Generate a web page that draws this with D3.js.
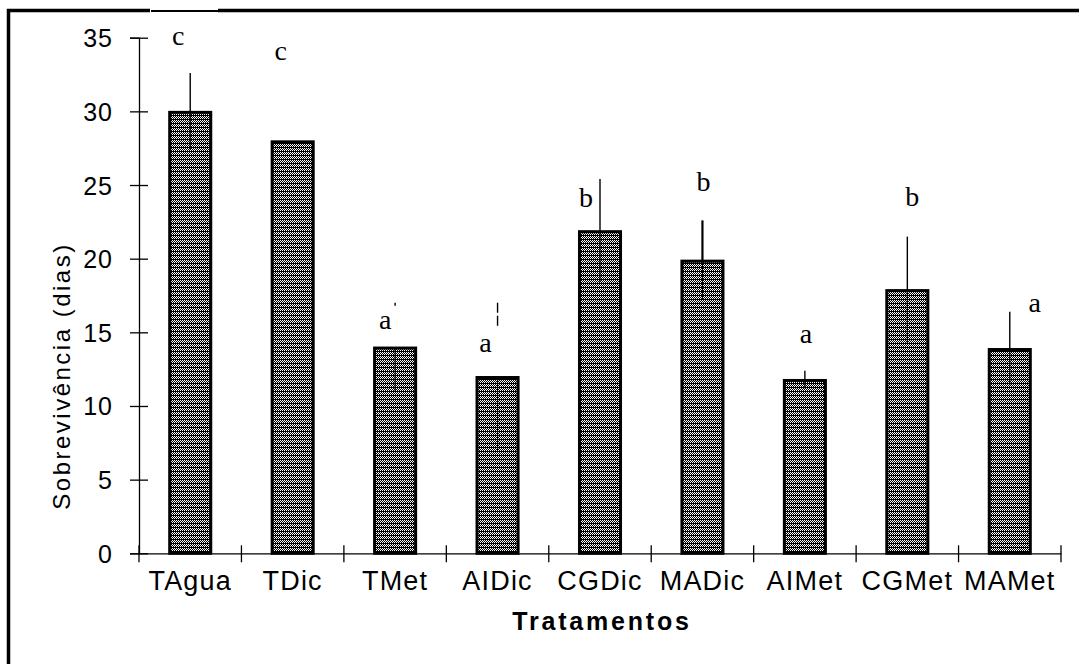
<!DOCTYPE html>
<html lang="pt">
<head>
<meta charset="UTF-8" />
<title>Sobrevivência por tratamento</title>
<script src="https://d3js.org/d3.v7.js"></script>
<style>
    body { margin: 0; background: #fff; }
    svg { display: block; }
</style>
</head>
<body>
<script>
    var w = 1079;
    var h = 664;

    // data
    var categories = ["TAgua", "TDic", "TMet", "AIDic", "CGDic", "MADic", "AIMet", "CGMet", "MAMet"];
    var means = [30, 28, 14, 12, 21.9, 19.9, 11.8, 17.9, 13.9];
    var errors = [2.6, 0, 3, 5, 3.5, 2.7, 0.6, 3.6, 2.5];
    var letters = ["c", "c", "a", "a", "b", "b", "a", "b", "a"];
    var letterLevel = [34.5, 33.5, 15.2, 13.65, 23.5, 24.6, 14.3, 23.6, 16.4];
    var yTicks = [0, 5, 10, 15, 20, 25, 30, 35];

    var dataset = categories.map(function (c, i) {
        return { name: c, mean: means[i], err: errors[i], letter: letters[i], level: letterLevel[i] };
    });

    // little horizontal shifts of the letters, as placed in the original
    var letterNudge = [-12, -12, -10, -12, -14, 1, 1, 5, 25];
    // the scan lost most of the TMet and AIDic error lines
    var errDash = { TMet: "3,1000", AIDic: "10,3,10,1000" };

    var svg = d3.select("body")
        .append("svg")
        .attr("width", w)
        .attr("height", h);

    // hatch pattern of the bars
    var pat = svg.append("defs").append("pattern")
        .attr("id", "hatch")
        .attr("patternUnits", "userSpaceOnUse")
        .attr("width", 4)
        .attr("height", 4);
    pat.append("rect").attr("width", 4).attr("height", 4).attr("fill", "#000");
    [[0, 0], [2, 0], [1, 1], [3, 1], [0, 2], [2, 2]].forEach(function (p) {
        pat.append("rect").attr("x", p[0]).attr("y", p[1])
            .attr("width", 1).attr("height", 1).attr("fill", "#fff");
    });

    // frame (left and top only)
    svg.append("path")
        .attr("d", "M8.5,664 V10.5 H150")
        .attr("fill", "none").attr("stroke", "#000").attr("stroke-width", 3.5);
    svg.append("line")
        .attr("x1", 151).attr("x2", 218).attr("y1", 11).attr("y2", 11)
        .attr("stroke", "#000").attr("stroke-width", 2);
    svg.append("line")
        .attr("x1", 218).attr("x2", w).attr("y1", 10.5).attr("y2", 10.5)
        .attr("stroke", "#000").attr("stroke-width", 3.5);

    var xScale = d3.scaleBand()
        .domain(categories)
        .range([139, 1061]);

    var yScale = d3.scaleLinear()
        .domain([0, 35])
        .range([553.3, 37.7]);

    var bw = xScale.bandwidth() * 0.43;
    var mid = function (d) { return xScale(d.name) + xScale.bandwidth() / 2; };

    // bars
    svg.selectAll("rect.bar")
        .data(dataset)
        .enter()
        .append("rect")
        .attr("class", "bar")
        .attr("x", function (d) { return xScale(d.name) + (xScale.bandwidth() - bw) / 2 + 1.5; })
        .attr("y", function (d) { return yScale(d.mean) + 1; })
        .attr("width", bw - 3)
        .attr("height", function (d) { return yScale(0) - yScale(d.mean) - 1; })
        .attr("fill", "url(#hatch)")
        .attr("stroke", "#000")
        .attr("stroke-width", 3);

    var withErr = dataset.filter(function (d) { return d.err > 0; });

    // error bars, lower half (inside the bar)
    svg.selectAll("line.errlow")
        .data(withErr)
        .enter()
        .append("line")
        .attr("class", "errlow")
        .attr("x1", mid)
        .attr("x2", mid)
        .attr("y1", function (d) { return yScale(d.mean); })
        .attr("y2", function (d) { return yScale(d.mean - d.err); })
        .attr("stroke", "#000")
        .attr("stroke-width", 1.2);

    // error bars, upper half, drawn from the tip down
    svg.selectAll("line.err")
        .data(withErr)
        .enter()
        .append("line")
        .attr("class", "err")
        .attr("x1", mid)
        .attr("x2", mid)
        .attr("y1", function (d) { return yScale(d.mean + d.err); })
        .attr("y2", function (d) { return yScale(d.mean); })
        .attr("stroke", "#000")
        .attr("stroke-dasharray", function (d) { return errDash[d.name] || null; })
        .attr("stroke-width", function (d) { return d.name == "MADic" ? 2.2 : 1.4; });

    // letters
    svg.selectAll("text.letter")
        .data(dataset)
        .enter()
        .append("text")
        .attr("class", "letter")
        .attr("x", function (d, i) { return mid(d) + letterNudge[i]; })
        .attr("y", function (d) { return yScale(d.level); })
        .attr("text-anchor", "middle")
        .attr("font-family", "Liberation Serif, Times New Roman, serif")
        .attr("font-size", 28)
        .attr("fill", "#000")
        .text(function (d) { return d.letter; });

    // y axis
    var yAxis = svg.append("g")
        .attr("transform", "translate(139,0)")
        .call(d3.axisLeft(yScale).tickValues(yTicks).tickSize(9).tickPadding(17));
    yAxis.selectAll(".tick line").attr("x2", -9).attr("x1", 9).attr("stroke-width", 1.3);
    yAxis.select(".domain").attr("stroke-width", 1.3);
    yAxis.selectAll("text")
        .attr("font-family", "Liberation Sans, Arial, sans-serif")
        .attr("font-size", 25)
        .attr("letter-spacing", 1)
        .attr("fill", "#000")
        .attr("dy", "0.36em");

    // x axis
    var xAxis = svg.append("g")
        .attr("transform", "translate(0," + yScale(0) + ")")
        .call(d3.axisBottom(xScale).tickSize(0).tickPadding(18).tickSizeOuter(0));
    xAxis.select(".domain").attr("stroke-width", 1.3);
    xAxis.selectAll("text")
        .attr("font-family", "Liberation Sans, Arial, sans-serif")
        .attr("font-size", 27)
        .attr("letter-spacing", 1.2)
        .attr("fill", "#000");

    var bounds = categories.map(function (c) { return xScale(c); }).concat([xScale.range()[1]]);
    xAxis.selectAll("line.sep")
        .data(bounds)
        .enter()
        .append("line")
        .attr("class", "sep")
        .attr("x1", function (d) { return d; })
        .attr("x2", function (d) { return d; })
        .attr("y1", -8)
        .attr("y2", 9)
        .attr("stroke", "#000")
        .attr("stroke-width", 1.3);

    // axis titles
    svg.append("text")
        .attr("transform", "translate(70,376) rotate(-90)")
        .attr("text-anchor", "middle")
        .attr("font-family", "Liberation Sans, Arial, sans-serif")
        .attr("font-size", 24)
        .attr("letter-spacing", 2.5)
        .attr("fill", "#000")
        .text("Sobrevivência (dias)");

    svg.append("text")
        .attr("x", 602)
        .attr("y", 630)
        .attr("text-anchor", "middle")
        .attr("font-family", "Liberation Sans, Arial, sans-serif")
        .attr("font-size", 25)
        .attr("font-weight", "bold")
        .attr("letter-spacing", 2.8)
        .attr("fill", "#000")
        .text("Tratamentos");
</script>
</body>
</html>
